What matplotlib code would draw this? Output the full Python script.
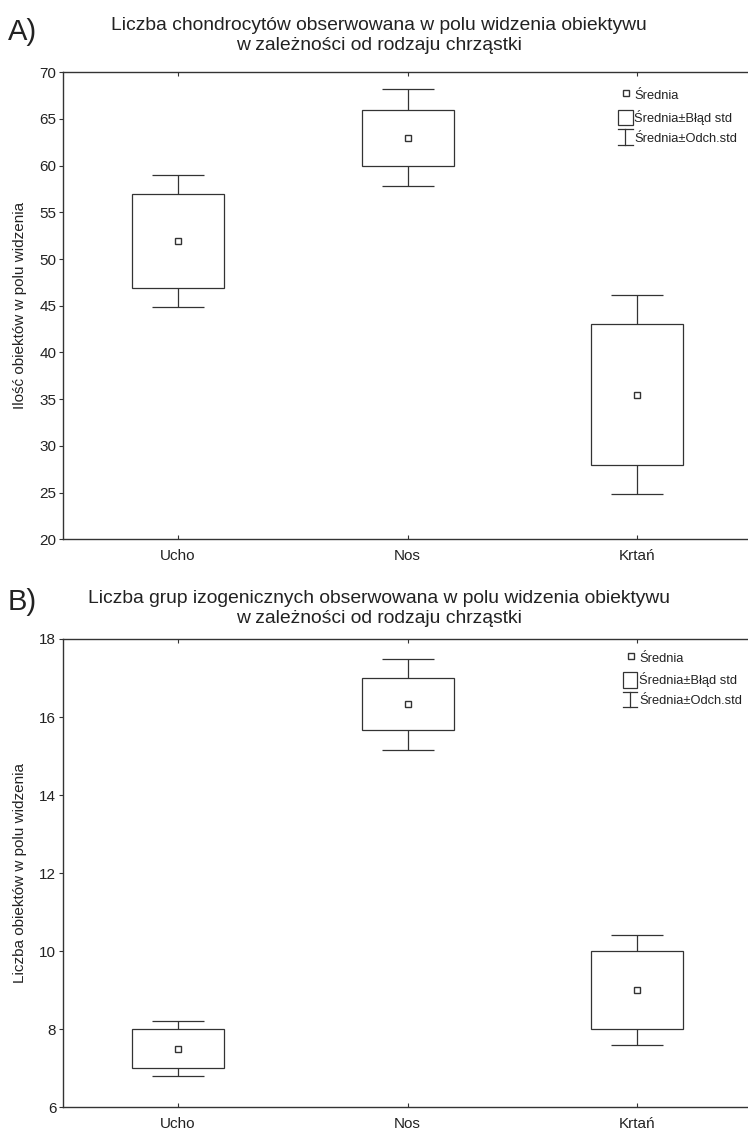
import matplotlib
matplotlib.use("Agg")
import matplotlib.pyplot as plt
from matplotlib.patches import Rectangle
from matplotlib.lines import Line2D
from matplotlib.legend_handler import HandlerBase

plt.rcParams['font.family'] = ['Liberation Sans', 'DejaVu Sans']

categories = ["Ucho", "Nos", "Krtań"]

# Panel A: chondrocytes
mean_a = [51.95, 63.0, 35.5]
se_a = [5.05, 3.0, 7.55]
sd_a = [7.1, 5.2, 10.7]

# Panel B: isogenic groups
mean_b = [7.5, 16.33, 9.0]
se_b = [0.5, 0.67, 1.0]
sd_b = [0.71, 1.17, 1.41]

title_a = "Liczba chondrocytów obserwowana w polu widzenia obiektywu\nw zależności od rodzaju chrząstki"
title_b = "Liczba grup izogenicznych obserwowana w polu widzenia obiektywu\nw zależności od rodzaju chrząstki"
ylabel_a = "Ilość obiektów w polu widzenia"
ylabel_b = "Liczba obiektów w polu widzenia"
yticks_a = [20, 25, 30, 35, 40, 45, 50, 55, 60, 65, 70]
yticks_b = [6, 8, 10, 12, 14, 16, 18]
legend_labels = ["Średnia", "Średnia±Błąd std", "Średnia±Odch.std"]

LC = "#333333"
TC = "#222222"

W, H = 748, 1130
fig = plt.figure(figsize=(W / 100, H / 100), dpi=100)


class HandlerMean(HandlerBase):
    def create_artists(self, legend, orig_handle, xd, yd, width, height, fontsize, trans):
        cx = -xd + width * 0.55
        cy = -yd + height / 2 + 1
        ln = Line2D([cx], [cy], marker='s', markersize=4.5, markerfacecolor='white',
                    markeredgecolor=LC, markeredgewidth=1.0, linestyle='none', transform=trans)
        return [ln]


class HandlerBoxL(HandlerBase):
    def create_artists(self, legend, orig_handle, xd, yd, width, height, fontsize, trans):
        h = fontsize * 1.2
        r = Rectangle((-xd, -yd + height / 2 - h / 2), width, h, facecolor='white',
                      edgecolor=LC, linewidth=0.9, transform=trans)
        return [r]


class HandlerIBar(HandlerBase):
    def create_artists(self, legend, orig_handle, xd, yd, width, height, fontsize, trans):
        h = fontsize * 1.2
        cx = -xd + width / 2
        y0 = -yd + height / 2 - h / 2
        y1 = y0 + h
        v = Line2D([cx, cx], [y0, y1], color=LC, linewidth=0.9, transform=trans)
        c1 = Line2D([-xd, -xd + width], [y0, y0], color=LC, linewidth=0.9, transform=trans)
        c2 = Line2D([-xd, -xd + width], [y1, y1], color=LC, linewidth=0.9, transform=trans)
        return [v, c1, c2]


class MeanH: pass
class BoxH: pass
class IBarH: pass


def panel(rect, means, ses, sds, ylim, yticks, title, ylabel, letter, title_y, letter_y, leg_anchor):
    ax = fig.add_axes(rect)
    x = list(range(1, len(categories) + 1))
    ax.errorbar(x, means, yerr=sds, fmt='none', ecolor=LC, elinewidth=0.9,
                capsize=18.5, capthick=0.9, zorder=2)
    bottoms = [m - s for m, s in zip(means, ses)]
    heights = [2 * s for s in ses]
    ax.bar(x, heights, bottom=bottoms, width=0.4, facecolor='white', edgecolor=LC,
           linewidth=0.9, zorder=3)
    ax.plot(x, means, linestyle='none', marker='s', markersize=4.5, markerfacecolor='white',
            markeredgecolor=LC, markeredgewidth=1.0, zorder=4)
    ax.set_xlim(0.5, 3.5)
    ax.set_ylim(*ylim)
    ax.set_yticks(yticks)
    ax.set_xticks(x)
    ax.set_xticklabels(categories)
    ax.tick_params(axis='y', direction='out', length=3, width=0.8, colors=LC,
                   labelcolor=TC, labelsize=11, pad=2)
    ax.tick_params(axis='x', direction='in', length=3, width=0.8, colors=LC, top=True,
                   labelcolor=TC, labelsize=11, pad=7)
    for s in ax.spines.values():
        s.set_color(LC)
        s.set_linewidth(1.0)
    ax.set_ylabel(ylabel, fontsize=11, color=TC, labelpad=9)
    fig.text(0.507, title_y, title, ha='center', va='top', fontsize=13.9, color=TC,
             linespacing=1.2)
    fig.text(0.010, letter_y, letter, ha='left', va='top', fontsize=21, color=TC)
    ax.legend([MeanH(), BoxH(), IBarH()], legend_labels,
              handler_map={MeanH: HandlerMean(), BoxH: HandlerBoxL(), IBarH: HandlerIBar()},
              loc='upper left', bbox_to_anchor=leg_anchor, frameon=False, fontsize=9.3,
              handlelength=1.15, handletextpad=0.12, labelspacing=0.6, borderpad=0,
              borderaxespad=0, labelcolor=TC)
    return ax


left = 63.3 / W
width = (752 - 63.3) / W

panel([left, 1 - 539.3 / H, width, (539.3 - 72.3) / H], mean_a, se_a, sd_a, (20, 70),
      yticks_a, title_a, ylabel_a, "A)", 1 - 17 / H, 1 - 18 / H, (0.805, 0.962))
panel([left, 1 - 1107.3 / H, width, (1107.3 - 639) / H], mean_b, se_b, sd_b, (6, 18),
      yticks_b, title_b, ylabel_b, "B)", 1 - 590 / H, 1 - 588 / H, (0.812, 0.971))

fig.savefig("out.png", dpi=100)
